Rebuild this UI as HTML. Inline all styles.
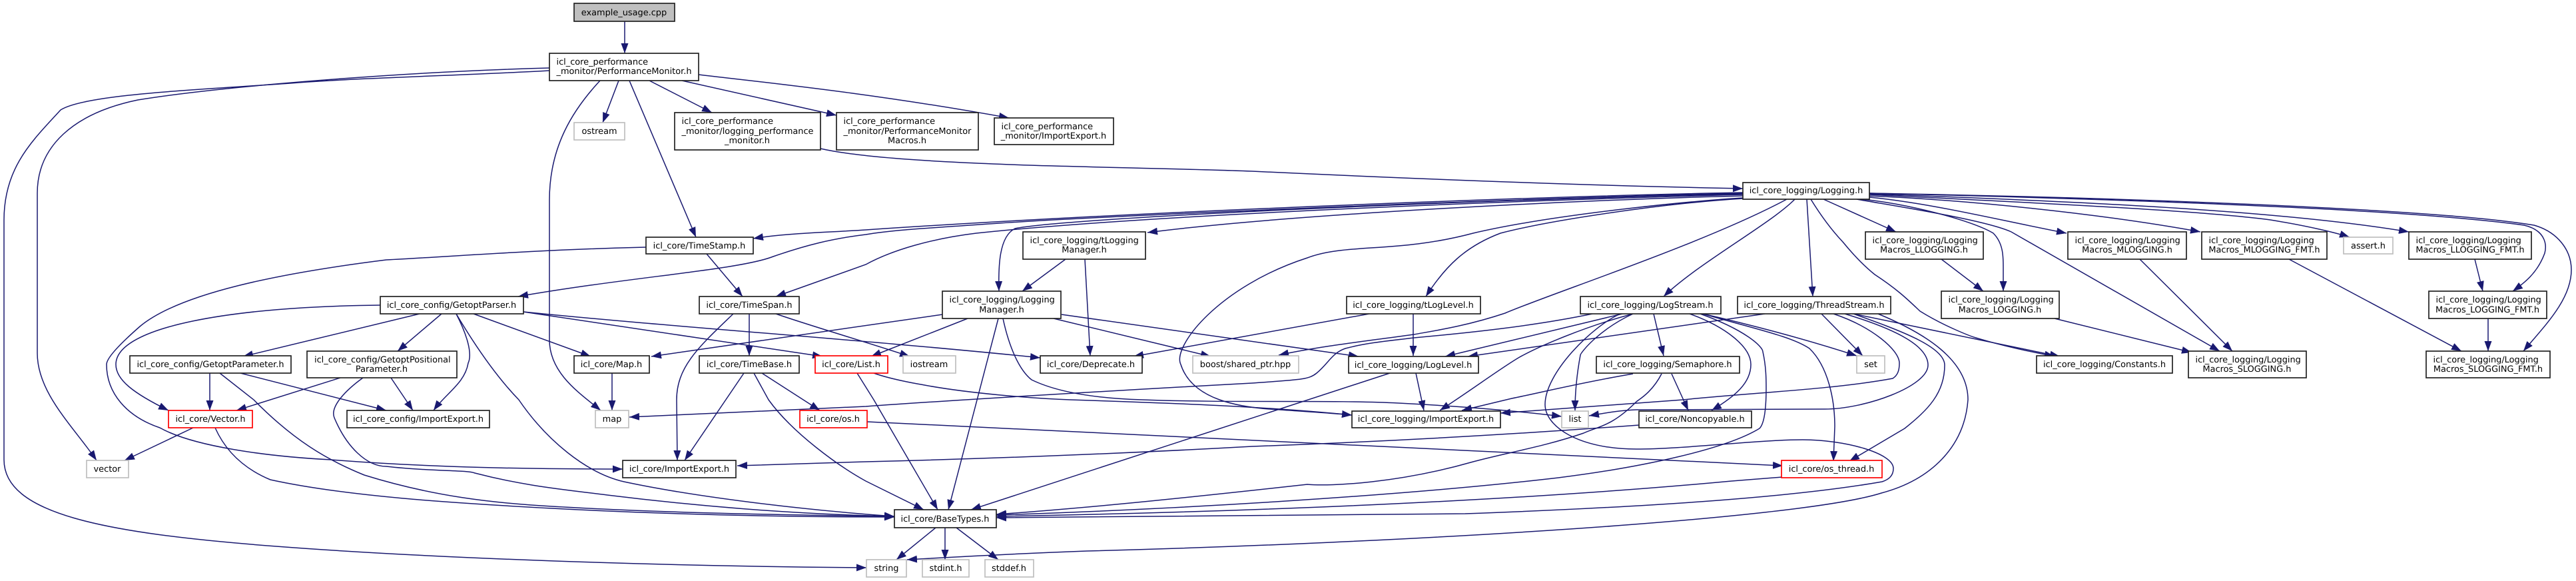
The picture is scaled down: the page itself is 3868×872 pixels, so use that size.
<!DOCTYPE html>
<html><head><meta charset="utf-8"><title>example_usage.cpp include graph</title>
<style>
html,body{margin:0;padding:0;background:#fff;width:3868px;height:872px;overflow:hidden}
svg{display:block}
text{font-family:"DejaVu Sans",sans-serif;font-size:12.9px;fill:#000;text-rendering:geometricPrecision}
.m{text-anchor:middle}
rect{fill:#fff;stroke:#222;stroke-width:1.7}
rect.g{stroke:#bfbfbf}
rect.r{stroke:#f00}
rect.s{fill:#bfbfbf}
#e path{fill:none;stroke:#191970;stroke-width:1.5;marker-end:url(#a)}
</style></head><body>
<svg xmlns="http://www.w3.org/2000/svg" width="3868" height="872" viewBox="0 0 3868 872">
<defs><marker id="a" markerUnits="userSpaceOnUse" markerWidth="15" markerHeight="11" refX="15" refY="5.500" orient="auto"><path d="M0,0L15,5.500L0,11Z" fill="#191970" stroke="none"/></marker></defs>
<g id="e">
<path d="M938,32L938,80"/>
<path d="M825,102C600,108 330,130 207,150C110,170 56,220 56,290L56,530C56,590 110,640 145,691"/>
<path d="M825,106C700,113 560,116 448,124C320,134 130,140 91,165C50,210 6,250 6,330L6,690C6,770 150,800 415,820C650,838 1000,850 1301,852"/>
<path d="M901,121C860,165 825,220 825,300L825,510C825,560 870,590 902,616"/>
<path d="M929,121L905,184"/>
<path d="M945,121L1045,356"/>
<path d="M975,121L1069,169"/>
<path d="M1024,121L1256,173"/>
<path d="M1049,112C1130,122 1300,138 1515,177"/>
<path d="M1232,223C1350,250 1700,250 1880,257C2200,272 2450,280 2617,283"/>
<path d="M2617,289C2300,295 1700,318 1300,345C1240,349 1180,350 1131,358"/>
<path d="M2617,290C2200,300 1650,325 1500,335C1400,342 1340,345 1300,352C1250,358 1210,368 1161,385C1110,405 950,415 778,445"/>
<path d="M2617,291C2200,300 1600,327 1524,343C1500,355 1499,400 1500,437"/>
<path d="M2617,292C2200,303 1700,325 1466,350C1400,358 1340,375 1300,397L1165,445"/>
<path d="M2617,294C2400,299 1950,320 1723,349"/>
<path d="M2617,297C2560,300 2340,320 2212,350C2100,380 2020,365 1963,387C1830,430 1760,520 1773,547C1790,600 1860,612 1922,615C1950,617 2000,620 2030,623"/>
<path d="M2617,298C2500,305 2330,330 2253,350C2200,370 2170,400 2141,445"/>
<path d="M2695,299C2660,335 2550,395 2498,445"/>
<path d="M2683,299C2560,365 2330,440 2260,470C2200,490 2150,497 2123,502C2050,512 1980,520 1920,533"/>
<path d="M2391,471C2300,490 2200,500 2123,507C2080,512 2050,515 2020,523C2000,530 1995,545 1977,560C1965,570 1950,570 1880,575C1750,582 1466,598 1300,610L945,626"/>
<path d="M2713,299L2722,445"/>
<path d="M2719,299C2735,325 2750,345 2767,363C2785,385 2800,400 2815,412C2850,435 2865,450 2883,467C2920,490 2960,505 2967,507C3010,520 3050,528 3085,535"/>
<path d="M2738,299L2847,348"/>
<path d="M2788,299C2850,310 2980,330 3020,348L3333,527"/>
<path d="M2795,299C2860,305 2960,330 2993,350C3008,365 3008,385 3008,400L3008,437"/>
<path d="M2807,296C2900,305 3000,330 3103,350"/>
<path d="M2807,294C2950,300 3150,320 3304,348"/>
<path d="M2807,292C3000,302 3300,315 3409,330C3470,340 3510,350 3528,356"/>
<path d="M2807,291C3200,305 3450,320 3617,348"/>
<path d="M2807,290C3150,298 3600,312 3790,338C3820,345 3825,365 3821,380C3810,410 3790,425 3773,437"/>
<path d="M2807,290C3150,296 3650,312 3805,338C3840,348 3861,375 3861,405C3861,450 3820,490 3789,527"/>
<path d="M970,371C800,375 680,385 580,390C420,410 270,440 210,490C170,525 160,540 160,547C160,590 190,625 240,642C290,670 400,685 497,690C650,702 800,704 935,704"/>
<path d="M1061,381L1115,445"/>
<path d="M571,458C350,460 174,490 174,547C174,570 200,590 253,616"/>
<path d="M630,471L365,535"/>
<path d="M663,471L597,527"/>
<path d="M685,471C700,500 710,530 703,545C698,575 670,590 651,616"/>
<path d="M685,471C720,530 750,570 779,600C820,660 880,710 937,723C1040,745 1200,765 1343,775"/>
<path d="M711,471L887,535"/>
<path d="M786,468L1235,535"/>
<path d="M786,468C1000,490 1300,510 1562,537"/>
<path d="M1101,471C1050,520 1016,550 1016,600L1017,691"/>
<path d="M1125,471L1125,534"/>
<path d="M1165,471C1220,490 1300,513 1366,535"/>
<path d="M1117,560L1028,691"/>
<path d="M1132,560L1154,600C1190,650 1260,700 1300,722L1387,765"/>
<path d="M1144,560L1231,616"/>
<path d="M919,560L919,616"/>
<path d="M1287,560L1312,600L1408,765"/>
<path d="M1312,560C1340,570 1383,577 1383,577C1450,590 1550,598 1607,600C1760,605 1900,610 2030,623"/>
<path d="M315,560L315,616"/>
<path d="M330,560L381,600C440,660 490,690 547,713C650,745 740,755 829,760C1000,770 1180,773 1343,775"/>
<path d="M361,560L580,616"/>
<path d="M511,567L355,616"/>
<path d="M587,567L620,616"/>
<path d="M545,567C520,585 495,610 502,627C520,670 550,700 580,700C650,708 700,705 713,710C790,730 850,735 912,743C1050,760 1200,772 1343,775"/>
<path d="M290,642L187,691"/>
<path d="M323,642C340,680 370,705 406,720C520,745 680,755 829,763C1000,772 1180,776 1343,776"/>
<path d="M1405,792L1346,840"/>
<path d="M1419,792L1419,840"/>
<path d="M1436,792L1499,840"/>
<path d="M1415,472L978,535"/>
<path d="M1453,478L1308,535"/>
<path d="M1499,478L1424,765"/>
<path d="M1506,478C1515,520 1530,555 1549,570C1590,590 1650,598 1715,600C1850,605 2000,600 2100,605C2200,610 2280,617 2345,625"/>
<path d="M1582,478L1818,535"/>
<path d="M1594,472L2040,535"/>
<path d="M1600,389L1535,437"/>
<path d="M1629,389L1637,534"/>
<path d="M2056,471L1702,535"/>
<path d="M2122,471L2122,534"/>
<path d="M2436,471L2170,535"/>
<path d="M2452,471C2380,490 2310,520 2280,537C2250,555 2210,585 2162,616"/>
<path d="M2433,471C2390,490 2320,560 2320,607C2320,640 2370,674 2457,674C2530,674 2640,660 2707,660C2770,660 2843,680 2843,703C2843,715 2835,720 2826,723C2700,745 2500,760 2200,771C1950,775 1700,777 1496,777"/>
<path d="M2452,471C2400,495 2373,530 2373,533C2368,560 2365,590 2365,616"/>
<path d="M2483,471L2498,534"/>
<path d="M2537,471C2590,490 2629,520 2629,547C2629,575 2605,595 2570,616"/>
<path d="M2553,471C2620,495 2647,520 2647,528C2652,550 2652,570 2652,583C2652,610 2650,635 2642,643C2590,675 2460,702 2340,717C2100,745 1750,765 1496,773"/>
<path d="M2557,471C2640,495 2690,505 2717,523C2745,550 2755,600 2755,640L2753,692"/>
<path d="M2557,471C2640,490 2720,512 2788,534"/>
<path d="M2650,471L2204,535"/>
<path d="M2735,471L2797,534"/>
<path d="M2753,471C2810,490 2852,525 2852,545C2852,555 2850,563 2842,568C2750,585 2620,590 2527,600L2253,620"/>
<path d="M2770,471C2850,495 2895,520 2895,548C2895,580 2800,614 2740,614L2457,615C2430,616 2410,620 2386,624"/>
<path d="M2783,471C2850,495 2920,520 2920,548C2920,590 2895,615 2860,643L2777,692"/>
<path d="M2783,471L3093,535"/>
<path d="M2820,471C2890,500 2955,540 2955,600C2950,670 2900,720 2825,740C2700,780 2100,815 1632,827C1550,830 1450,835 1362,840"/>
<path d="M2087,560L1458,765"/>
<path d="M2126,560L2138,616"/>
<path d="M2452,561C2370,575 2310,590 2270,598L2195,616"/>
<path d="M2495,561C2480,590 2460,600 2457,603C2420,640 2400,640 2378,650C2320,670 2260,680 2212,693C2100,725 2000,730 1963,727C1800,745 1640,762 1496,772"/>
<path d="M2510,561L2535,616"/>
<path d="M2915,389L2978,437"/>
<path d="M3085,478L3291,529"/>
<path d="M3213,389L3352,527"/>
<path d="M3437,389L3696,527"/>
<path d="M3716,389L3728,437"/>
<path d="M3736,478L3736,527"/>
<path d="M1302,633L2677,699"/>
<path d="M2461,638C2300,650 2100,662 1880,670C1700,680 1500,688 1300,693L1107,699"/>
<path d="M2676,716L2600,722C2300,750 1900,768 1496,775"/>
</g>
<g>
<rect class="s" x="862" y="5" width="151" height="27"/><text class="m" x="937" y="23">example_usage.cpp</text>
<rect x="825" y="80" width="224" height="41"/><text x="835.500" y="97">icl_core_performance</text><text class="m" x="937" y="111">_monitor/PerformanceMonitor.h</text>
<rect class="g" x="862" y="184" width="76" height="26"/><text class="m" x="900" y="201">ostream</text>
<rect x="1013" y="169" width="219" height="56"/><text x="1023.500" y="186">icl_core_performance</text><text x="1023.500" y="201">_monitor/logging_performance</text><text class="m" x="1122" y="215">_monitor.h</text>
<rect x="1256" y="169" width="213" height="56"/><text x="1266.500" y="186">icl_core_performance</text><text x="1266.500" y="201">_monitor/PerformanceMonitor</text><text class="m" x="1362" y="215">Macros.h</text>
<rect x="1493" y="177" width="179" height="40"/><text x="1503.500" y="194">icl_core_performance</text><text class="m" x="1582" y="208">_monitor/ImportExport.h</text>
<rect x="2617" y="274" width="190" height="25"/><text class="m" x="2712" y="290">icl_core_logging/Logging.h</text>
<rect x="970" y="356" width="161" height="25"/><text class="m" x="1050" y="373">icl_core/TimeStamp.h</text>
<rect x="571" y="445" width="215" height="26"/><text class="m" x="678" y="462">icl_core_config/GetoptParser.h</text>
<rect x="1050" y="445" width="150" height="26"/><text class="m" x="1125" y="462">icl_core/TimeSpan.h</text>
<rect x="195" y="534" width="242" height="26"/><text class="m" x="316" y="551">icl_core_config/GetoptParameter.h</text>
<rect x="461" y="527" width="225" height="40"/><text x="472" y="544">icl_core_config/GetoptPositional</text><text class="m" x="573" y="558">Parameter.h</text>
<rect x="862" y="534" width="113" height="26"/><text class="m" x="918" y="551">icl_core/Map.h</text>
<rect x="1050" y="534" width="150" height="26"/><text class="m" x="1125" y="551">icl_core/TimeBase.h</text>
<rect class="r" x="1224" y="534" width="109" height="26"/><text class="m" x="1278" y="551">icl_core/List.h</text>
<rect x="1536" y="348" width="184" height="41"/><text x="1546.500" y="365">icl_core_logging/tLogging</text><text class="m" x="1628" y="379">Manager.h</text>
<rect x="1415" y="437" width="178" height="41"/><text x="1425.500" y="454">icl_core_logging/Logging</text><text class="m" x="1504" y="469">Manager.h</text>
<rect x="2022" y="445" width="201" height="26"/><text class="m" x="2122" y="462">icl_core_logging/tLogLevel.h</text>
<rect x="2373" y="445" width="211" height="26"/><text class="m" x="2478" y="462">icl_core_logging/LogStream.h</text>
<rect class="g" x="1356" y="534" width="79" height="26"/><text class="m" x="1395" y="551">iostream</text>
<rect x="1562" y="534" width="153" height="26"/><text class="m" x="1638" y="551">icl_core/Deprecate.h</text>
<rect class="g" x="1791" y="534" width="159" height="26"/><text class="m" x="1870" y="551">boost/shared_ptr.hpp</text>
<rect x="2025" y="535" width="195" height="25"/><text class="m" x="2122" y="552">icl_core_logging/LogLevel.h</text>
<rect x="2397" y="535" width="215" height="25"/><text class="m" x="2504" y="551">icl_core_logging/Semaphore.h</text>
<rect x="2609" y="445" width="230" height="26"/><text class="m" x="2724" y="462">icl_core_logging/ThreadStream.h</text>
<rect x="2801" y="348" width="177" height="41"/><text x="2811.500" y="365">icl_core_logging/Logging</text><text class="m" x="2889" y="379">Macros_LLOGGING.h</text>
<rect x="3105" y="348" width="178" height="41"/><text x="3115.500" y="365">icl_core_logging/Logging</text><text class="m" x="3194" y="379">Macros_MLOGGING.h</text>
<rect x="3306" y="348" width="188" height="41"/><text x="3316.500" y="365">icl_core_logging/Logging</text><text class="m" x="3400" y="379">Macros_MLOGGING_FMT.h</text>
<rect class="g" x="3519" y="356" width="74" height="25"/><text class="m" x="3556" y="373">assert.h</text>
<rect x="3617" y="348" width="184" height="41"/><text x="3627.500" y="365">icl_core_logging/Logging</text><text class="m" x="3709" y="379">Macros_LLOGGING_FMT.h</text>
<rect x="2915" y="437" width="177" height="41"/><text x="2925.500" y="454">icl_core_logging/Logging</text><text class="m" x="3003" y="469">Macros_LOGGING.h</text>
<rect x="3647" y="437" width="177" height="41"/><text x="3657.500" y="454">icl_core_logging/Logging</text><text class="m" x="3735" y="469">Macros_LOGGING_FMT.h</text>
<rect class="g" x="2788" y="534" width="42" height="26"/><text class="m" x="2809" y="551">set</text>
<rect x="3058" y="534" width="204" height="26"/><text class="m" x="3160" y="551">icl_core_logging/Constants.h</text>
<rect x="3286" y="527" width="177" height="40"/><text x="3296.500" y="544">icl_core_logging/Logging</text><text class="m" x="3374" y="558">Macros_SLOGGING.h</text>
<rect x="3643" y="527" width="186" height="40"/><text x="3653.500" y="544">icl_core_logging/Logging</text><text class="m" x="3736" y="558">Macros_SLOGGING_FMT.h</text>
<rect class="r" x="253" y="616" width="126" height="26"/><text class="m" x="316" y="633">icl_core/Vector.h</text>
<rect x="521" y="616" width="214" height="26"/><text class="m" x="628" y="633">icl_core_config/ImportExport.h</text>
<rect class="g" x="894" y="616" width="50" height="26"/><text class="m" x="919" y="633">map</text>
<rect class="r" x="1201" y="616" width="101" height="26"/><text class="m" x="1251" y="633">icl_core/os.h</text>
<rect class="g" x="130" y="691" width="63" height="26"/><text class="m" x="161" y="708">vector</text>
<rect x="935" y="691" width="170" height="26"/><text class="m" x="1020" y="708">icl_core/ImportExport.h</text>
<rect x="2030" y="617" width="223" height="25"/><text class="m" x="2141" y="633">icl_core_logging/ImportExport.h</text>
<rect class="g" x="2345" y="617" width="40" height="25"/><text class="m" x="2365" y="633">list</text>
<rect x="2461" y="617" width="169" height="25"/><text class="m" x="2545" y="633">icl_core/Noncopyable.h</text>
<rect x="1343" y="765" width="153" height="27"/><text class="m" x="1419" y="783">icl_core/BaseTypes.h</text>
<rect class="g" x="1301" y="840" width="60" height="26"/><text class="m" x="1331" y="857">string</text>
<rect class="g" x="1385" y="840" width="70" height="26"/><text class="m" x="1420" y="857">stdint.h</text>
<rect class="g" x="1479" y="840" width="73" height="26"/><text class="m" x="1515" y="857">stddef.h</text>
<rect class="r" x="2675" y="691" width="151" height="26"/><text class="m" x="2750" y="708">icl_core/os_thread.h</text>
</g>
</svg>
</body></html>
